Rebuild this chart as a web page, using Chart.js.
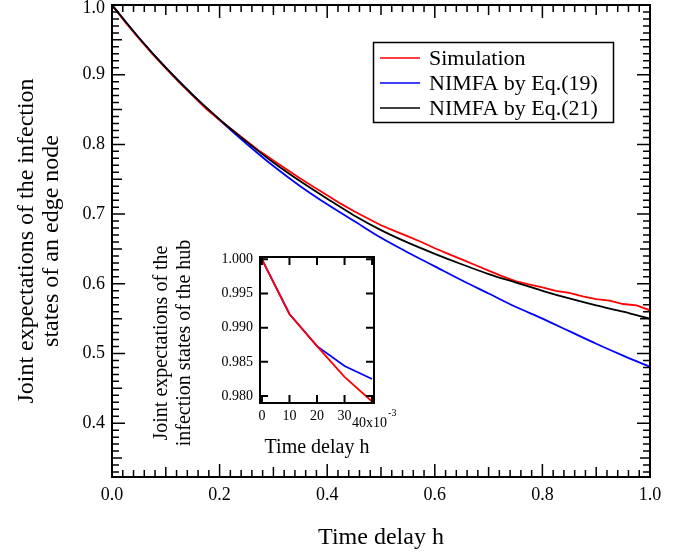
<!DOCTYPE html>
<html>
<head>
<meta charset="utf-8">
<script src="https://cdn.jsdelivr.net/npm/chart.js@4.4.1/dist/chart.umd.min.js"></script>
<style>
  body { margin: 0; background: #fff; }
  #wrap { position: relative; width: 687px; height: 554px; }
  #inset { position: absolute; left: 0; top: 0; pointer-events: none; }
</style>
</head>
<body>
<div id="wrap">
  <canvas id="main" width="687" height="554"></canvas>
  <canvas id="inset" width="687" height="554"></canvas>
</div>
<script>
// --- main panel data (time delay h) ---
const hCoarse = [0, 0.05, 0.1, 0.15, 0.2, 0.25, 0.3, 0.35, 0.4, 0.45, 0.5,
                 0.55, 0.6, 0.65, 0.7, 0.75, 0.8, 0.85, 0.9, 0.95, 1.0];
const eq19 = [1.000, 0.953, 0.910, 0.871, 0.835, 0.801, 0.769, 0.740, 0.714, 0.690, 0.666,
              0.645, 0.625, 0.605, 0.586, 0.567, 0.550, 0.532, 0.514, 0.497, 0.481];
const eq21 = [1.000, 0.953, 0.910, 0.871, 0.836, 0.804, 0.774, 0.747, 0.722, 0.698, 0.677,
              0.659, 0.643, 0.628, 0.614, 0.602, 0.590, 0.579, 0.569, 0.560, 0.550];

const hFine = [0, 0.025, 0.05, 0.075, 0.1, 0.125, 0.15, 0.175, 0.2, 0.225, 0.25,
               0.275, 0.3, 0.325, 0.35, 0.375, 0.4, 0.425, 0.45, 0.475, 0.5,
               0.525, 0.55, 0.575, 0.6, 0.625, 0.65, 0.675, 0.7, 0.725, 0.75,
               0.775, 0.8, 0.825, 0.85, 0.875, 0.9, 0.925, 0.95, 0.975, 1.0];
const simulation = [1.000, 0.975, 0.952, 0.930, 0.909, 0.889, 0.870, 0.851, 0.835, 0.820, 0.805,
                    0.790, 0.777, 0.764, 0.751, 0.739, 0.727, 0.715, 0.704, 0.694, 0.684,
                    0.676, 0.668, 0.660, 0.651, 0.643, 0.635, 0.627, 0.619, 0.611, 0.604,
                    0.599, 0.595, 0.590, 0.587, 0.582, 0.578, 0.576, 0.571, 0.569, 0.562];

const seriesNames = ['Simulation', 'NIMFA by Eq.(19)', 'NIMFA by Eq.(21)'];
const xTicks = [0, 0.2, 0.4, 0.6, 0.8, 1.0];
const yTicks = [0.4, 0.5, 0.6, 0.7, 0.8, 0.9, 1.0];

// --- inset data (hub) ---
const hInset = [0, 0.01, 0.02, 0.03, 0.04];
const hubSim = [1.000, 0.9920, 0.9873, 0.9828, 0.9792];
const hubEq19 = [1.000, 0.9920, 0.9873, 0.9844, 0.9825];
const insetXTicks = [0, 0.01, 0.02, 0.03, 0.04];
const insetYTicks = [0.980, 0.985, 0.990, 0.995, 1.000];
const insetYTitle = ['Joint expectations of the', 'infection states of the hub'];

const SERIF = "'Liberation Serif', 'Times New Roman', serif";
const pts = (xs, ys) => xs.map((x, i) => ({ x: x, y: ys[i] }));

// frame + inward ticks on all four sides
const frameTicks = {
    id: 'frameTicks',
    afterDatasetsDraw(chart, args, o) {
        const { ctx, chartArea: a, scales: { x, y } } = chart;
        ctx.save();
        ctx.strokeStyle = '#000';
        ctx.lineWidth = o.tickWidth;
        ctx.beginPath();
        o.xMarks.forEach(([v, len]) => {
            const px = x.getPixelForValue(v);
            ctx.moveTo(px, a.bottom); ctx.lineTo(px, a.bottom - len);
            ctx.moveTo(px, a.top); ctx.lineTo(px, a.top + len);
        });
        o.yMarks.forEach(([v, len]) => {
            const py = y.getPixelForValue(v);
            ctx.moveTo(a.left, py); ctx.lineTo(a.left + len, py);
            ctx.moveTo(a.right, py); ctx.lineTo(a.right - len, py);
        });
        ctx.stroke();
        ctx.lineWidth = o.frameWidth;
        ctx.strokeRect(a.left, a.top, a.width, a.height);
        ctx.restore();
    }
};

// legend box inside the main plot
const boxLegend = {
    id: 'boxLegend',
    afterDraw(chart) {
        const ctx = chart.ctx;
        ctx.save();
        ctx.fillStyle = '#fff';
        ctx.fillRect(373.5, 42.5, 240, 80);
        ctx.strokeStyle = '#000';
        ctx.lineWidth = 1.5;
        ctx.strokeRect(373.5, 42.5, 240, 80);
        ctx.font = `22px ${SERIF}`;
        ctx.textBaseline = 'middle';
        chart.data.datasets.forEach((ds, i) => {
            const yy = 58 + i * 25;
            ctx.strokeStyle = ds.borderColor;
            ctx.lineWidth = 1.5;
            ctx.beginPath();
            ctx.moveTo(380, yy); ctx.lineTo(420, yy);
            ctx.stroke();
            ctx.fillStyle = '#000';
            ctx.fillText(ds.label, 429, yy + 1);
        });
        ctx.restore();
    }
};

// main tick marks: 0.02 / 0.01 steps, longer every 5 and 10
const mainXMarks = [];
for (let i = 0; i <= 50; i++) mainXMarks.push([i / 50, i % 10 === 0 ? 13 : (i % 5 === 0 ? 10 : 7)]);
const mainYMarks = [];
for (let i = 33; i <= 100; i++) mainYMarks.push([i / 100, i % 10 === 0 ? 13 : (i % 5 === 0 ? 10 : 7)]);

// top label "1.0" sits a little below its tick so it stays on the page
const isTop = c => c.tick && c.tick.value === 1;

new Chart(document.getElementById('main'), {
    type: 'line',
    data: {
        datasets: [
            { label: seriesNames[0], data: pts(hFine, simulation), borderColor: '#ff0000', borderWidth: 1.8, order: 1, tension: 0 },
            { label: seriesNames[1], data: pts(hCoarse, eq19), borderColor: '#0000ff', borderWidth: 1.8, order: 2, cubicInterpolationMode: 'monotone' },
            { label: seriesNames[2], data: pts(hCoarse, eq21), borderColor: '#000000', borderWidth: 1.8, order: 0, cubicInterpolationMode: 'monotone' }
        ]
    },
    options: {
        responsive: false,
        animation: false,
        devicePixelRatio: 1,
        elements: { point: { radius: 0 } },
        layout: { padding: { top: 5, right: 37, left: 0, bottom: 0 }, autoPadding: false },
        plugins: {
            legend: { display: false },
            tooltip: { enabled: false },
            frameTicks: { xMarks: mainXMarks, yMarks: mainYMarks, tickWidth: 1.5, frameWidth: 2 }
        },
        scales: {
            x: {
                type: 'linear', min: 0, max: 1,
                afterBuildTicks: s => { s.ticks = xTicks.map(v => ({ value: v })); },
                afterFit: s => { s.height = 77; s.paddingLeft = 0; s.paddingRight = 0; },
                grid: { display: false, drawTicks: false },
                border: { display: false },
                ticks: { color: '#000', font: { family: SERIF, size: 18 }, padding: 7, callback: v => v.toFixed(1), maxRotation: 0 },
                title: { display: true, text: 'Time delay h', color: '#000', font: { family: SERIF, size: 24, lineHeight: 1.1 }, padding: { bottom: 3 } }
            },
            y: {
                type: 'linear', min: 0.3228, max: 1.0,
                afterBuildTicks: s => { s.ticks = yTicks.map(v => ({ value: v })); },
                afterFit: s => { s.width = 112; s.paddingTop = 0; s.paddingBottom = 0; },
                grid: { display: false, drawTicks: false },
                border: { display: false },
                ticks: {
                    color: '#000', padding: 7,
                    font: c => ({ family: SERIF, size: 18, lineHeight: isTop(c) ? 0.35 : 1.2 }),
                    callback: v => (v === 1 ? ['', '1.0'] : v.toFixed(1))
                },
                title: {
                    display: true,
                    text: ['Joint expectations of the infection', 'states of an edge node'],
                    color: '#000', font: { family: SERIF, size: 24, lineHeight: 1.04 }, padding: { top: 14 }
                }
            }
        }
    },
    plugins: [frameTicks, boxLegend]
});

// "40x10^-3" multiplier label and the rotated y title of the inset
const insetText = {
    id: 'insetText',
    afterDraw(chart) {
        const ctx = chart.ctx;
        const px = chart.scales.x.getPixelForValue(0.04);
        const yy = chart.chartArea.bottom;
        ctx.save();
        ctx.fillStyle = '#000';
        ctx.textBaseline = 'middle';
        ctx.font = `14px ${SERIF}`;
        ctx.fillText('40x10', px - 20, yy + 20);
        const w = ctx.measureText('40x10').width;
        ctx.font = `10px ${SERIF}`;
        ctx.fillText('-3', px - 20 + w + 1, yy + 10);

        ctx.translate(162, 343);
        ctx.rotate(-Math.PI / 2);
        ctx.textAlign = 'center';
        ctx.font = `20px ${SERIF}`;
        insetYTitle.forEach((t, i) => ctx.fillText(t, 0, i * 23));
        ctx.restore();
    }
};

new Chart(document.getElementById('inset'), {
    type: 'line',
    data: {
        datasets: [
            { label: seriesNames[0], data: pts(hInset, hubSim), borderColor: '#ff0000', borderWidth: 1.8, order: 0, tension: 0 },
            { label: seriesNames[1], data: pts(hInset, hubEq19), borderColor: '#0000ff', borderWidth: 1.8, order: 1, tension: 0 }
        ]
    },
    options: {
        responsive: false,
        animation: false,
        devicePixelRatio: 1,
        elements: { point: { radius: 0 } },
        layout: { padding: { top: 257, right: 313, left: 150, bottom: 91 }, autoPadding: false },
        plugins: {
            legend: { display: false },
            tooltip: { enabled: false },
            frameTicks: {
                xMarks: insetXTicks.map(v => [v, 8]),
                yMarks: insetYTicks.map(v => [v, 8]),
                tickWidth: 2, frameWidth: 2
            }
        },
        scales: {
            x: {
                type: 'linear', min: -0.0007, max: 0.0407,
                afterBuildTicks: s => { s.ticks = insetXTicks.map(v => ({ value: v })); },
                afterFit: s => { s.height = 60; },
                grid: { display: false, drawTicks: false },
                border: { display: false },
                ticks: { color: '#000', font: { family: SERIF, size: 14 }, padding: 5, maxRotation: 0,
                         callback: v => (v > 0.035 ? '' : String(Math.round(v * 1000))) },
                title: { display: true, text: 'Time delay h', color: '#000', font: { family: SERIF, size: 20, lineHeight: 1.2 }, padding: { bottom: 3 } }
            },
            y: {
                type: 'linear', min: 0.97898, max: 1.00034,
                afterBuildTicks: s => { s.ticks = insetYTicks.map(v => ({ value: v })); },
                afterFit: s => { s.width = 110; },
                grid: { display: false, drawTicks: false },
                border: { display: false },
                ticks: { color: '#000', font: { family: SERIF, size: 14 }, padding: 7, callback: v => v.toFixed(3) }
            }
        }
    },
    plugins: [frameTicks, insetText]
});
</script>
</body>
</html>
